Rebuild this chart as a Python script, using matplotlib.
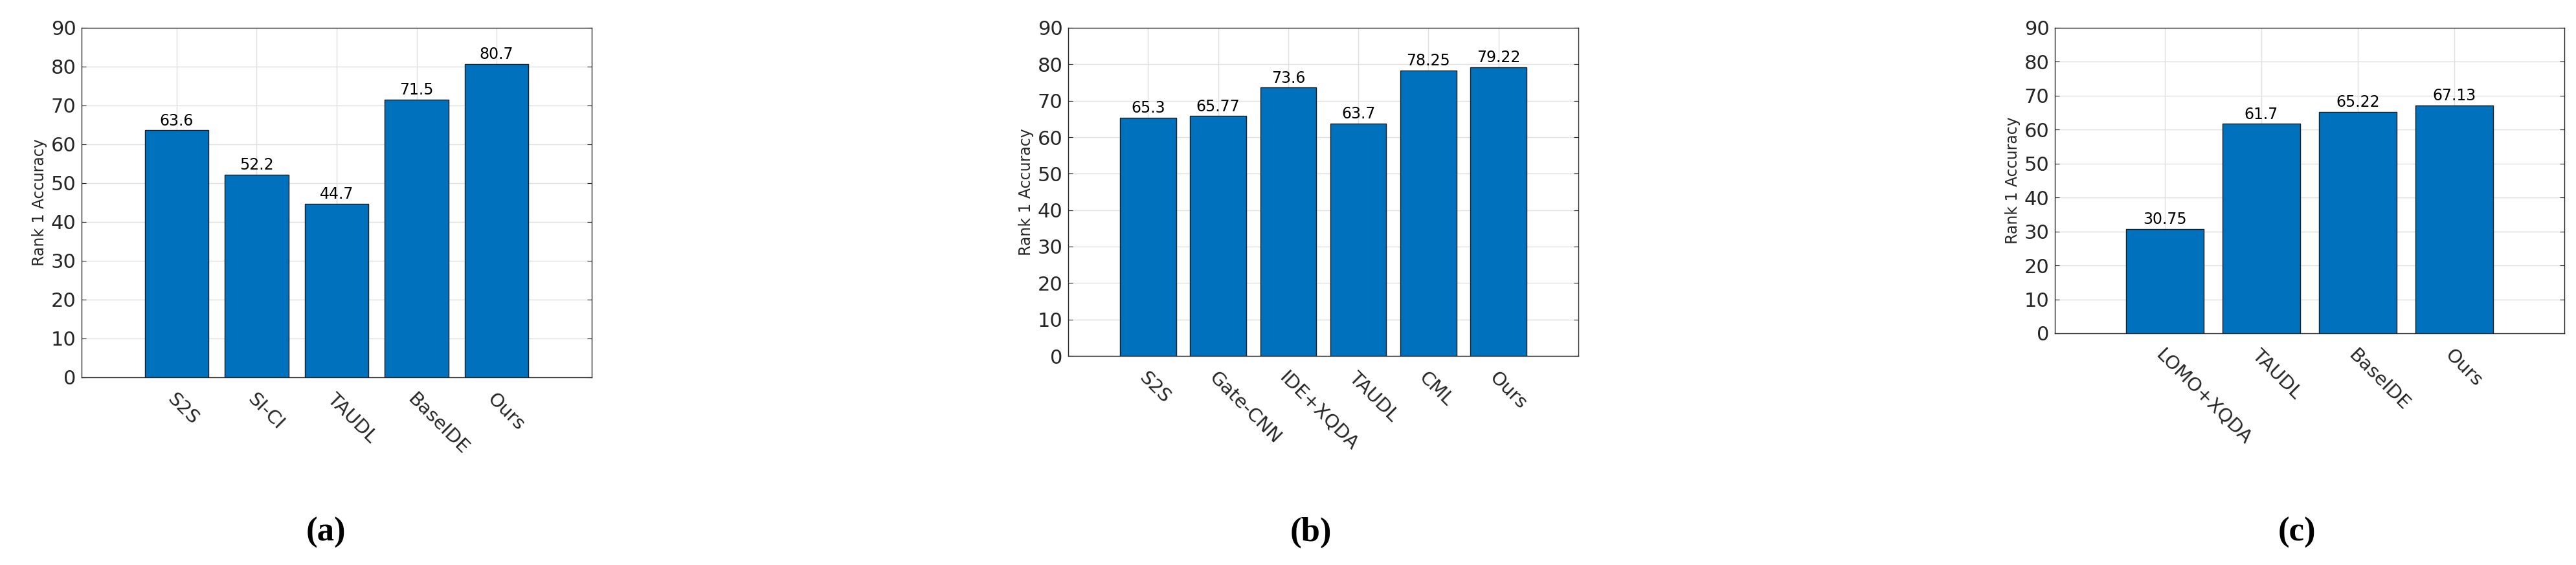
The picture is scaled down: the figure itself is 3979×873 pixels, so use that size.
import matplotlib
matplotlib.use("Agg")
import matplotlib.pyplot as plt

cats_a = ["S2S", "SI-CI", "TAUDL", "BaseIDE", "Ours"]
vals_a = [63.6, 52.2, 44.7, 71.5, 80.7]
labs_a = ["63.6", "52.2", "44.7", "71.5", "80.7"]
cats_b = ["S2S", "Gate-CNN", "IDE+XQDA", "TAUDL", "CML", "Ours"]
vals_b = [65.3, 65.77, 73.6, 63.7, 78.25, 79.22]
labs_b = ["65.3", "65.77", "73.6", "63.7", "78.25", "79.22"]
cats_c = ["LOMO+XQDA", "TAUDL", "BaseIDE", "Ours"]
vals_c = [30.75, 61.7, 65.22, 67.13]
labs_c = ["30.75", "61.7", "65.22", "67.13"]
captions = ["(a)", "(b)", "(c)"]
yticks = list(range(0, 100, 10))

W, H = 3980, 873
fig = plt.figure(figsize=(W/100, H/100), dpi=100)
narrow = ["Liberation Sans Narrow", "DejaVu Sans"]

panels = [
    (cats_a, vals_a, labs_a, (126, 914, 43, 583), 1.19, 503),
    (cats_b, vals_b, labs_b, (1650, 2438, 43, 550), 1.14, 2025),
    (cats_c, vals_c, labs_c, (3174, 3961, 43, 515), 1.14, 3548),
]
for (cats, vals, labs, (l, r, t, b), pad, capx), cap in zip(panels, captions):
    ax = fig.add_axes([l/W, 1-b/H, (r-l)/W, (b-t)/H])
    x = list(range(1, len(cats)+1))
    bars = ax.bar(x, vals, width=0.8, color="#0072BD", edgecolor="#1a1a1a", linewidth=1.0, zorder=3)
    ax.bar_label(bars, labels=labs, padding=2, fontsize=17, family=narrow)
    ax.set_xlim(1-pad, len(cats)+pad)
    ax.set_ylim(0, 90)
    ax.set_yticks(yticks)
    ax.set_xticks(x)
    ax.set_xticklabels(cats, rotation=-45, ha="left", rotation_mode="anchor", fontsize=21, family=narrow)
    for tl in ax.get_yticklabels():
        tl.set_fontsize(22); tl.set_family(narrow)
    ax.set_ylabel("Rank 1 Accuracy", fontsize=17, color="#262626")
    ax.grid(True, color="#e0e0e0", linewidth=1.0, zorder=0)
    ax.tick_params(axis="both", direction="in", length=5, colors="#262626", pad=6)
    ax.tick_params(axis="x", pad=14)
    ax.tick_params(right=True, top=False)
    for s in ax.spines.values():
        s.set_color("#262626"); s.set_linewidth(1.0)
    fig.text(capx/W, 1-823/H, cap, ha="center", va="center", fontsize=38, family="Liberation Serif", fontweight="bold")

fig.savefig("out.png", dpi=100)
